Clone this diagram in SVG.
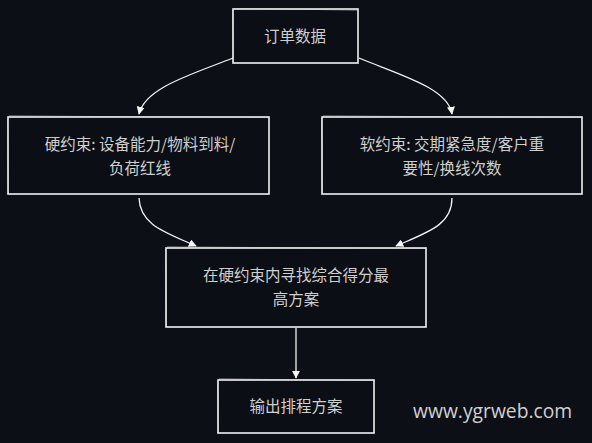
<svg xmlns="http://www.w3.org/2000/svg" width="592" height="443" viewBox="0 0 592 443">
<defs>
<style>
.box{fill:#0b0e14;stroke:#f2f2f2;stroke-width:1.6}
.sk{fill:none;stroke:#d8d8d8;stroke-width:0.8;opacity:0.8}
.t{font-family:"Noto Sans CJK SC","Noto Sans",sans-serif;font-size:15.5px;fill:#cfcfcf;text-anchor:middle}
.c{fill:none;stroke:#f2f2f2;stroke-width:1.3}
.wm{font-family:"Open Sans","Noto Sans",sans-serif;font-size:19.3px;fill:#d0d0d0}
</style>
<marker id="ah" viewBox="0 0 10 10" refX="9" refY="5" markerWidth="8" markerHeight="8" markerUnits="userSpaceOnUse" orient="auto">
<path d="M0,0 L10,5 L0,10 z" fill="#f5f5f5"/>
</marker>
</defs>
<rect width="592" height="443" fill="#0c0f16"/>
<g id="connectors">
<path class="c" d="M233,58 C190,75 145,88 139,114" marker-end="url(#ah)"/>
<path class="c" d="M359,58 C400,75 448,88 452,114" marker-end="url(#ah)"/>
<path class="c" d="M139,198 C140,225 165,232 196,246" marker-end="url(#ah)"/>
<path class="c" d="M452,198 C452,225 428,232 396,246" marker-end="url(#ah)"/>
<path class="c" d="M296,328 L296,378" marker-end="url(#ah)"/>
</g>
<g id="n1">
<rect class="box" x="233" y="9" width="125" height="54"/>
<path class="sk" d="M234,8.5 L357,10 M232.5,10 L233.5,62"/>
<text class="t" x="295" y="42">订单数据</text>
</g>
<g id="n2">
<rect class="box" x="8" y="117" width="261" height="77"/>
<path class="sk" d="M9,116 L268,117.5 M7.5,118 L8.5,193"/>
<text class="t" x="140" y="150">硬约束: 设备能力/物料到料/</text>
<text class="t" x="140" y="174">负荷红线</text>
</g>
<g id="n3">
<rect class="box" x="322" y="117" width="260" height="77"/>
<path class="sk" d="M323,116 L581,117.5 M321.5,118 L322.5,193"/>
<text class="t" x="452" y="150">软约束: 交期紧急度/客户重</text>
<text class="t" x="452" y="174">要性/换线次数</text>
</g>
<g id="n4">
<rect class="box" x="166" y="248" width="260" height="79"/>
<path class="sk" d="M167,247 L425,248.5 M165.5,249 L166.5,326"/>
<text class="t" x="296" y="281">在硬约束内寻找综合得分最</text>
<text class="t" x="296" y="305">高方案</text>
</g>
<g id="n5">
<rect class="box" x="218" y="380" width="156" height="53"/>
<path class="sk" d="M219,379 L373,380.5 M217.5,381 L218.5,432"/>
<text class="t" x="296" y="412">输出排程方案</text>
</g>
<text class="wm" x="413" y="418">www.ygrweb.com</text>
</svg>
